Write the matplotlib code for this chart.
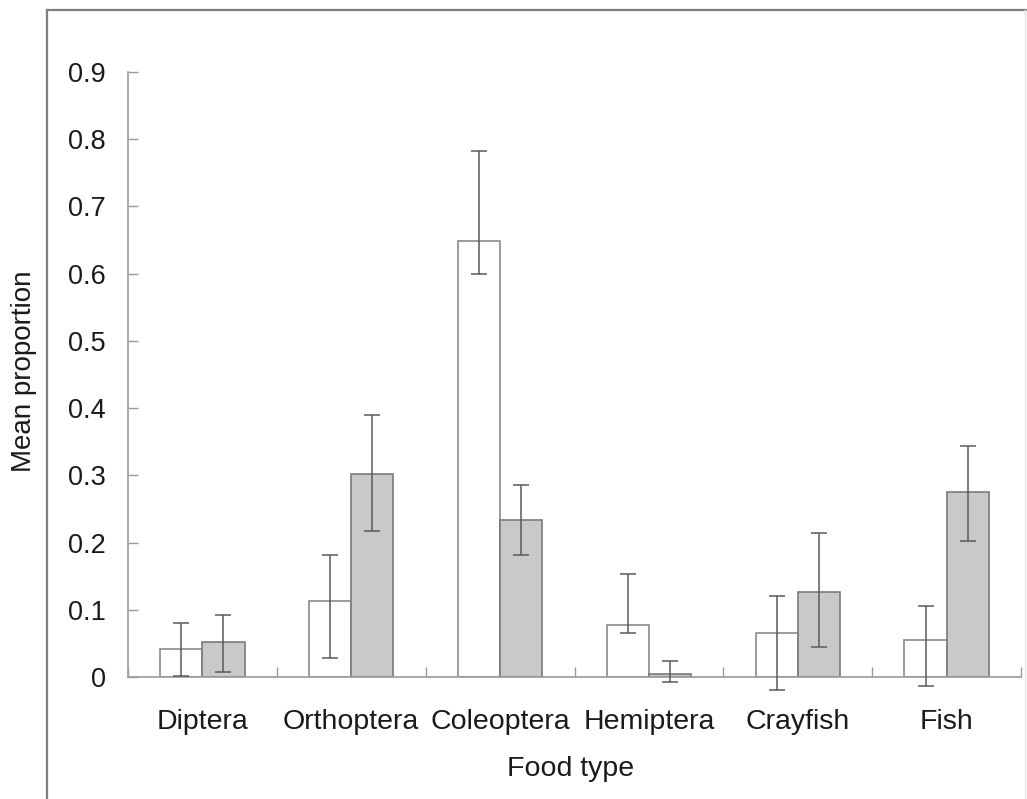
import numpy as np
import matplotlib
matplotlib.use("Agg")
import matplotlib.pyplot as plt
from matplotlib.lines import Line2D
from matplotlib.ticker import FixedLocator

plt.rcParams['font.family'] = ['Liberation Sans', 'DejaVu Sans']

categories = ["Diptera", "Orthoptera", "Coleoptera", "Hemiptera", "Crayfish", "Fish"]

# Mean proportions of each food type for the two groups
open_means = [0.041, 0.113, 0.648, 0.077, 0.065, 0.055]
grey_means = [0.052, 0.302, 0.234, 0.004, 0.126, 0.275]

# Error bar extents (upper, lower) relative to the means
open_err_up = [0.040, 0.069, 0.135, 0.076, 0.056, 0.051]
open_err_lo = [0.040, 0.084, 0.049, 0.012, 0.084, 0.069]
grey_err_up = [0.040, 0.088, 0.051, 0.020, 0.088, 0.068]
grey_err_lo = [0.044, 0.085, 0.052, 0.012, 0.081, 0.073]

y_ticks = [0.0, 0.1, 0.2, 0.3, 0.4, 0.5, 0.6, 0.7, 0.8, 0.9]
y_tick_labels = ["0", "0.1", "0.2", "0.3", "0.4", "0.5", "0.6", "0.7", "0.8", "0.9"]

W, H = 1027, 799
fig = plt.figure(figsize=(W / 100, H / 100), dpi=100)
fig.patch.set_facecolor("white")

left, right, top, bottom = 128, 1021, 72, 677
ax = fig.add_axes([left / W, 1 - bottom / H, (right - left) / W, (bottom - top) / H])

x = np.arange(len(categories))
bw = 0.283

ax.bar(x - bw / 2, open_means, width=bw, color="white", edgecolor="#8a8a8a", linewidth=1.2, zorder=2)
ax.bar(x + bw / 2, grey_means, width=bw, color="#c9c9c9", edgecolor="#7a7a7a", linewidth=1.2, zorder=2)

err_kw = dict(fmt="none", ecolor="#5a5a5a", elinewidth=1.1, capsize=5.5, capthick=1.1, zorder=3)
for xs, m, lo, up in ((x - bw / 2, open_means, open_err_lo, open_err_up),
                      (x + bw / 2, grey_means, grey_err_lo, grey_err_up)):
    eb = ax.errorbar(xs, m, yerr=[lo, up], **err_kw)
    for art in eb.lines[1] + eb.lines[2]:
        art.set_clip_on(False)

ax.set_xlim(-0.5, len(categories) - 0.5)
ax.set_ylim(0, 0.9)

for s in ("top", "right"):
    ax.spines[s].set_visible(False)
for s in ("left", "bottom"):
    ax.spines[s].set_color("#9a9a9a")
    ax.spines[s].set_linewidth(1.2)

ax.set_yticks(y_ticks)
ax.set_yticklabels(y_tick_labels)
ax.tick_params(axis="y", direction="in", length=7, width=1, color="#9a9a9a",
               labelsize=19.5, pad=16, labelcolor="#1a1a1a")

ax.set_xticks(x)
ax.set_xticklabels(categories)
ax.xaxis.set_minor_locator(FixedLocator(np.arange(-0.5, len(categories), 1.0)))
ax.tick_params(axis="x", which="major", length=0, labelsize=20.5, pad=23, labelcolor="#1a1a1a")
ax.tick_params(axis="x", which="minor", direction="in", length=7, width=1, color="#9a9a9a")

fig.text(571 / W, 1 - 769 / H, "Food type", ha="center", va="center", fontsize=20.5, color="#1a1a1a")
fig.text(24 / W, 1 - 371 / H, "Mean proportion", ha="center", va="center", rotation=90,
         fontsize=20, color="#1a1a1a")

# Outer frame around the plot
fig.add_artist(Line2D([47 / W, 47 / W], [0, 1 - 10 / H], transform=fig.transFigure,
                      color="#7f7f7f", linewidth=1.6))
fig.add_artist(Line2D([47 / W, 1], [1 - 10 / H, 1 - 10 / H], transform=fig.transFigure,
                      color="#7f7f7f", linewidth=1.6))
fig.add_artist(Line2D([1025 / W, 1025 / W], [0, 1 - 10 / H], transform=fig.transFigure,
                      color="#e6e6e6", linewidth=1.0))

fig.savefig("out.png", dpi=100)
